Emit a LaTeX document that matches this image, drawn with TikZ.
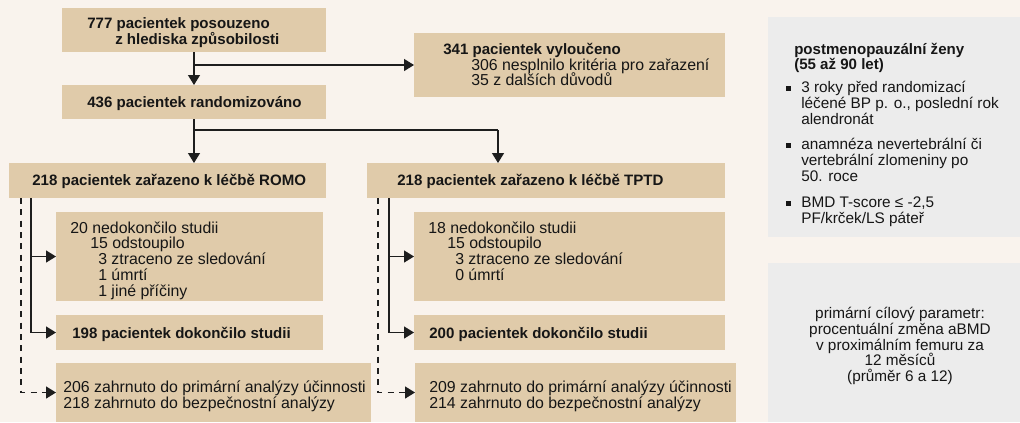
\documentclass[tikz,border=0pt]{standalone}
\usepackage{fontspec}
\setmainfont{Liberation Sans}
\usetikzlibrary{arrows.meta,fit}
\definecolor{bgc}{RGB}{249,243,237}
\definecolor{boxc}{RGB}{224,203,170}
\definecolor{grayc}{RGB}{236,236,236}
\definecolor{txtc}{RGB}{22,22,22}
\definecolor{linec}{RGB}{30,30,30}
\begin{document}
\begin{tikzpicture}[x=0.75pt,y=-0.75pt,
  box/.style={fill=boxc,draw=none,inner sep=0pt,outer sep=0pt},
  gbox/.style={fill=grayc,draw=none,inner sep=0pt,outer sep=0pt},
  txt/.style={inner sep=0pt,anchor=base west,text=txtc,font=\fontsize{11.9pt}{12pt}\selectfont},
  btxt/.style={txt,font=\fontsize{11.3pt}{12pt}\selectfont\bfseries},
  gtxt/.style={txt,font=\fontsize{11.5pt}{12pt}\selectfont},
  gbtxt/.style={txt,font=\fontsize{11.3pt}{12pt}\selectfont\bfseries},
  ctxt/.style={gtxt,anchor=base},
  lin/.style={draw=linec,line width=1pt},
  conn/.style={lin,-{Triangle[length=7.5pt,width=9pt]}},
  dconn/.style={conn,dash pattern=on 4.5pt off 4pt},
  bul/.style={fill=txtc,draw=none,minimum size=3.75pt,inner sep=0pt}
]
\useasboundingbox (0,0) rectangle (1020,422);
\fill[bgc] (0,0) rectangle (1020,422);

% boxes
\node[box,fit={(62,8)(326,52)}] (b1) {};
\node[box,fit={(62,85)(326,119)}] (b2) {};
\node[box,fit={(414,33)(725,97)}] (bx) {};
\node[box,fit={(9,163)(326,198)}] (romo) {};
\node[box,fit={(367,163)(725,198)}] (tptd) {};
\node[box,fit={(56,212)(323,301)}] (dr) {};
\node[box,fit={(414,212)(725,301)}] (dt) {};
\node[box,fit={(56,315)(323,350)}] (cr) {};
\node[box,fit={(414,315)(725,350)}] (ct) {};
\node[box,fit={(56,363)(371,422)}] (ar) {};
\node[box,fit={(415,363)(736,422)}] (at) {};
\node[gbox,fit={(768,17)(1020,237)}] (g1) {};
\node[gbox,fit={(768,263)(1020,422)}] (g2) {};

% texts
\node[btxt] (t1a) at (87,28) {777 pacientek posouzeno};
\node[btxt] (t1b) at (115,44) {z hlediska způsobilosti};
\node[btxt] (t2) at (87,107) {436 pacientek randomizováno};
\node[btxt] (tx1) at (443,54) {341 pacientek vyloučeno};
\node[txt] (tx2) at (471,70) {306 nesplnilo kritéria pro zařazení};
\node[txt] (tx3) at (471,85) {35 z dalších důvodů};
\node[btxt] (tr) at (32,185) {218 pacientek zařazeno k léčbě ROMO};
\node[btxt] (tt) at (397,185) {218 pacientek zařazeno k léčbě TPTD};
\node[txt] (dr1) at (70,233) {20 nedokončilo studii};
\node[txt] (dr2) at (90,248) {15 odstoupilo};
\node[txt] (dr3) at (98,264) {3 ztraceno ze sledování};
\node[txt] (dr4) at (98,280) {1 úmrtí};
\node[txt] (dr5) at (98,296) {1 jiné příčiny};
\node[txt] (dt1) at (428,233) {18 nedokončilo studii};
\node[txt] (dt2) at (447,248) {15 odstoupilo};
\node[txt] (dt3) at (455,264) {3 ztraceno ze sledování};
\node[txt] (dt4) at (455,280) {0 úmrtí};
\node[btxt] (crt) at (72,338) {198 pacientek dokončilo studii};
\node[btxt] (ctt) at (429,338) {200 pacientek dokončilo studii};
\node[txt] (ar1) at (63,392) {206 zahrnuto do primární analýzy účinnosti};
\node[txt] (ar2) at (63,408) {218 zahrnuto do bezpečnostní analýzy};
\node[txt] (at1) at (429,392) {209 zahrnuto do primární analýzy účinnosti};
\node[txt] (at2) at (429,408) {214 zahrnuto do bezpečnostní analýzy};

\node[gbtxt] (g1a) at (794,54) {postmenopauzální ženy};
\node[gbtxt] (g1b) at (794,69) {(55 až 90 let)};
\node[bul] (s1) at (788.5,88) {};
\node[gtxt] (g1c) at (801,92) {3 roky před randomizací};
\node[gtxt] (g1d) at (801,108) {léčené BP p. o., poslední rok};
\node[gtxt] (g1e) at (801,124) {alendronát};
\node[bul] (s2) at (788.5,145) {};
\node[gtxt] (g1f) at (801,149) {anamnéza nevertebrální či};
\node[gtxt] (g1g) at (801,165) {vertebrální zlomeniny po};
\node[gtxt] (g1h) at (801,181) {50. roce};
\node[bul] (s3) at (788.5,203) {};
\node[gtxt] (g1i) at (801,207) {BMD T-score ≤ -2,5};
\node[gtxt] (g1j) at (801,223) {PF/krček/LS páteř};

\node[ctxt] (g2a) at (900,318) {primární cílový parametr:};
\node[ctxt] (g2b) at (900,334) {procentuální změna aBMD};
\node[ctxt] (g2c) at (900,350) {v proximálním femuru za};
\node[ctxt] (g2d) at (900,365) {12 měsíců};
\node[ctxt] (g2e) at (900,381) {(průměr 6 a 12)};

% connectors
\coordinate (j1) at (194,65);
\coordinate (j2) at (194,130);
\coordinate (j3) at (498,130);
\coordinate (rs) at (31,198);
\coordinate (rd) at (21,198);
\coordinate (ts) at (389,198);
\coordinate (td) at (378,198);

\draw[conn] (b1) -- (b2);
\draw[conn] (j1) -- (bx.west);
\draw[conn] (b2.south) -- (b2.south |- romo.north);
\draw[lin] (j2) -- (j3);
\draw[conn] (j3) -- (j3 |- tptd.north);

\draw[conn] (rs) |- (cr.west);
\draw[conn] (rs |- dr.west) -- (dr.west);
\draw[dconn] (rd) |- (ar.west);

\draw[conn] (ts) |- (ct.west);
\draw[conn] (ts |- dt.west) -- (dt.west);
\draw[dconn] (td) |- (at.west);
\end{tikzpicture}
\end{document}
